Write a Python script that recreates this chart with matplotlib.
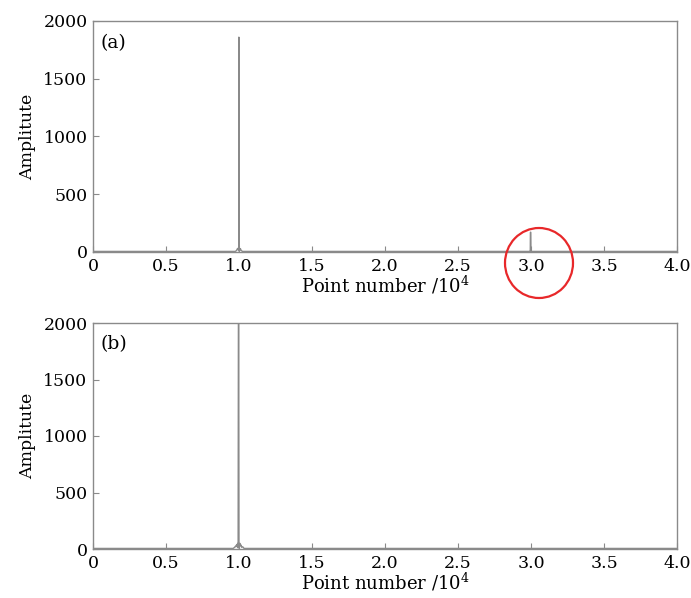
import numpy as np
import matplotlib
matplotlib.use("Agg")
import matplotlib.pyplot as plt
from matplotlib.patches import Ellipse

plt.rcParams['font.family'] = ['DejaVu Serif']
plt.rcParams['mathtext.fontset'] = 'dejavuserif'

# spectrum (a): point number in units of 1e4, amplitude
x_a = [0.0, 0.975, 0.982, 0.986, 0.990, 0.993, 0.996, 0.998, 0.999, 1.001, 1.002,
       1.004, 1.007, 1.010, 1.014, 1.018, 1.025, 2.990, 2.995, 2.996, 2.998, 3.000, 3.002, 3.010, 4.0]
y_a = [5, 5, 12, 20, 30, 20, 35, 10, 1860, 1840, 10,
       30, 18, 28, 15, 10, 5, 5, 5, 170, 172, 5, 5, 5, 5]

# spectrum (b)
x_b = [0.0, 0.960, 0.970, 0.976, 0.980, 0.984, 0.988, 0.992, 0.994, 0.996, 0.998,
       1.000, 1.002, 1.004, 1.006, 1.010, 1.014, 1.018, 1.025, 1.035, 4.0]
y_b = [5, 5, 15, 25, 20, 40, 30, 50, 10, 2000, 1995,
       10, 45, 35, 50, 28, 35, 15, 20, 5, 5]

xticks = [0, 0.5, 1.0, 1.5, 2.0, 2.5, 3.0, 3.5, 4.0]
xticklabels = ['0', '0.5', '1.0', '1.5', '2.0', '2.5', '3.0', '3.5', '4.0']
yticks = [0, 500, 1000, 1500, 2000]

gray = '#8a8a8a'

fig = plt.figure(figsize=(6.91, 5.98), dpi=100)
ax1 = fig.add_axes([93/691, 1 - 252/598, (677 - 93)/691, (252 - 21)/598])
ax2 = fig.add_axes([93/691, 1 - 549/598, (677 - 93)/691, (549 - 323)/598])

for ax, x, y, tag in [(ax1, x_a, y_a, '(a)'), (ax2, x_b, y_b, '(b)')]:
    ax.plot(x, y, color=gray, lw=1.0)
    ax.set_xlim(0, 4)
    ax.set_ylim(0, 2000)
    ax.set_xticks(xticks)
    ax.set_xticklabels(xticklabels)
    ax.set_yticks(yticks)
    ax.tick_params(direction='in', length=4, width=0.8, color=gray, labelsize=12.5, pad=4)
    for s in ax.spines.values():
        s.set_color(gray)
        s.set_linewidth(1.0)
    ax.set_xlabel('Point number /10$^4$', fontsize=13, labelpad=0)
    ax.set_ylabel('Amplitute', fontsize=12.5, labelpad=5)
    ax.text(0.013, 0.945, tag, transform=ax.transAxes, fontsize=13.5, va='top', ha='left')

# red circle marking the secondary peak
fig.patches.append(Ellipse((539/691, 1 - 263/598), 68/691, 70/598,
                           transform=fig.transFigure, fill=False, edgecolor='#e8282a', lw=1.6))

fig.savefig('out.png', dpi=100)
